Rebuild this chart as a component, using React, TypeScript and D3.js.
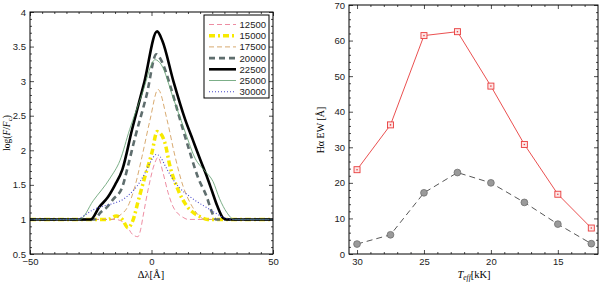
import React, { useEffect, useRef } from "react";
import * as d3 from "d3";

// line profiles log(F/Fc) vs delta lambda, one per Teff
const temps = ["12500", "15000", "17500", "20000", "22500", "25000", "30000"];
const p12500 = [[-50,1],[-15,1],[-12,0.97],[-10,0.9],[-8,0.79],[-5.6,0.75],[-4.5,0.85],[-3.5,1.04],[-1.4,1.43],[1.4,1.82],[2.7,1.9],[4.7,1.68],[6.8,1.39],[8.8,1.19],[11,1.08],[13,1.03],[15,1],[50,1]];
const p15000 = [[-50,1],[-18,1],[-14.5,1.05],[-12,1.0],[-9.7,0.88],[-7.5,1.0],[-5.6,1.25],[-2.7,1.62],[0.2,1.97],[2.3,2.27],[3.5,2.25],[5.5,2.11],[7.6,1.77],[10.9,1.43],[14.6,1.19],[17.5,1.09],[20,1.04],[23,1],[50,1]];
const p17500 = [[-50,1],[-17,1],[-13,1.06],[-9.7,1.19],[-6.8,1.48],[-3.9,1.91],[-0.6,2.44],[2.7,2.88],[6.4,2.44],[9.7,1.91],[13,1.48],[16.7,1.19],[20,1.04],[22,1],[50,1]];
const p20000 = [[-50,1],[-23.5,1],[-21,1.1],[-18.5,1.17],[-15.8,1.29],[-12.1,1.46],[-9.7,1.77],[-6.8,2.18],[-2,2.8],[2,3.39],[4,3.3],[8,2.9],[11.7,2.45],[15.8,1.97],[19,1.62],[22.8,1.32],[24.9,1.1],[26.5,1],[50,1]];
const p22500 = [[-50,1],[-25,1],[-21.5,1.18],[-18,1.32],[-15,1.5],[-12,1.72],[-8,2.3],[-3,2.98],[2.3,3.72],[4.5,3.58],[9,3.0],[13.8,2.45],[17,2.15],[20,1.87],[23,1.6],[25,1.4],[27,1.2],[29.5,1.02],[31,1],[50,1]];
const p25000 = [[-50,1],[-29.5,1],[-24,1.27],[-17,1.6],[-13,1.85],[-9,2.3],[-4,2.8],[1.5,3.31],[4,3.24],[9,2.75],[14,2.25],[18,1.88],[22,1.7],[25.3,1.55],[28,1.3],[31,1.1],[34,1],[50,1]];
const p30000 = [[-50,1],[-31,1],[-28,1.05],[-24,1.14],[-20,1.19],[-15,1.24],[-11.7,1.29],[-8,1.4],[-6,1.48],[-3,1.65],[-0.6,1.82],[2,1.94],[3.5,1.91],[6,1.75],[8.8,1.58],[12,1.44],[15.8,1.33],[19,1.25],[22.8,1.17],[26,1.1],[29,1.04],[33,1],[50,1]];
const profiles = [p12500, p15000, p17500, p20000, p22500, p25000, p30000];

// equivalent widths vs Teff
const teff = [30, 27.5, 25, 22.5, 20, 17.5, 15, 12.5];
const ewRed = [23.7, 36.3, 61.4, 62.5, 47.2, 30.8, 16.8, 7.3];
const ewGray = [2.8, 5.4, 17.2, 22.9, 20.0, 14.5, 8.4, 2.9];

const styles = [
  { color: "#e8708a", width: 0.8, dash: "5,3" },
  { color: "#f7ea00", width: 3.5, dash: "6,3,2,3" },
  { color: "#d4a060", width: 0.9, dash: "5,3" },
  { color: "#5f6e6e", width: 2.6, dash: "6,4" },
  { color: "#000000", width: 2.6, dash: null },
  { color: "#5a9a6a", width: 0.8, dash: null },
  { color: "#4848cc", width: 1.1, dash: "1,2" }
];

function frame(g, x, y, w, h, major, minor, majorY, minorY, fmtX, fmtY) {
  const tickText = (sel) =>
    sel.selectAll("text").attr("font-family", "Liberation Sans, Arial, sans-serif").attr("font-size", 9.5).attr("fill", "#222");
  const clean = (sel) => sel.select(".domain").remove();
  g.append("g").attr("transform", `translate(0,${h})`)
    .call(d3.axisBottom(x).tickValues(major).tickSize(-4).tickPadding(4).tickFormat(fmtX))
    .call(clean).call(tickText);
  g.append("g").attr("transform", `translate(0,${h})`)
    .call(d3.axisBottom(x).tickValues(minor).tickSize(-2).tickFormat(() => "")).call(clean);
  g.append("g").call(d3.axisTop(x).tickValues(major).tickSize(-4).tickFormat(() => "")).call(clean);
  g.append("g").call(d3.axisTop(x).tickValues(minor).tickSize(-2).tickFormat(() => "")).call(clean);
  g.append("g")
    .call(d3.axisLeft(y).tickValues(majorY).tickSize(-4).tickPadding(4).tickFormat(fmtY))
    .call(clean).call(tickText);
  g.append("g").call(d3.axisLeft(y).tickValues(minorY).tickSize(-2).tickFormat(() => "")).call(clean);
  g.append("g").attr("transform", `translate(${w},0)`)
    .call(d3.axisRight(y).tickValues(majorY).tickSize(-4).tickFormat(() => "")).call(clean);
  g.append("g").attr("transform", `translate(${w},0)`)
    .call(d3.axisRight(y).tickValues(minorY).tickSize(-2).tickFormat(() => "")).call(clean);
  g.selectAll(".tick line").attr("stroke", "#000").attr("stroke-width", 0.7);
  g.append("rect").attr("width", w).attr("height", h).attr("fill", "none").attr("stroke", "#000").attr("stroke-width", 1);
}

export default function App() {
  const ref = useRef(null);

  useEffect(() => {
    const svg = d3.select(ref.current);
    svg.selectAll("*").remove();

    // ---- left panel ----
    const L = { left: 30, top: 12, w: 243, h: 242 };
    const g1 = svg.append("g").attr("transform", `translate(${L.left},${L.top})`);
    const x1 = d3.scaleLinear().domain([-50, 50]).range([0, L.w]);
    const y1 = d3.scaleLinear().domain([0.5, 4]).range([L.h, 0]);
    const line1 = d3.line().x(d => x1(d[0])).y(d => y1(d[1])).curve(d3.curveMonotoneX);

    profiles.forEach((p, i) => {
      const s = styles[i];
      g1.append("path").attr("d", line1(p)).attr("fill", "none")
        .attr("stroke", s.color).attr("stroke-width", s.width)
        .attr("stroke-dasharray", s.dash);
    });

    frame(g1, x1, y1, L.w, L.h,
      [-50, 0, 50], d3.range(-45, 50, 5).filter(v => v % 50 !== 0),
      d3.range(0.5, 4.01, 0.5), d3.range(0.6, 4, 0.1).filter(v => Math.abs(v * 2 - Math.round(v * 2)) > 0.01),
      d => (d < 0 ? "\u2212" + Math.abs(d) : String(d)), d => String(d));

    // legend
    const lg = g1.append("g").attr("transform", `translate(${204 - L.left},${15 - L.top})`);
    lg.append("rect").attr("width", 65).attr("height", 83).attr("fill", "#fff").attr("stroke", "#000").attr("stroke-width", 1);
    temps.forEach((t, i) => {
      const s = styles[i];
      const yy = 9.5 + i * 11.2;
      lg.append("line").attr("x1", 5).attr("x2", 32).attr("y1", yy).attr("y2", yy)
        .attr("stroke", s.color).attr("stroke-width", s.width).attr("stroke-dasharray", s.dash);
      lg.append("text").attr("x", 62).attr("y", yy + 3.5).attr("text-anchor", "end")
        .attr("font-family", "Liberation Sans, Arial, sans-serif").attr("font-size", 9.5).attr("fill", "#222").text(t);
    });

    // axis titles
    svg.append("text").attr("x", 151).attr("y", 278).attr("text-anchor", "middle")
      .attr("font-family", "Liberation Serif, serif").attr("font-size", 10.5).text("\u0394\u03bb[\u00c5]");
    const yl = svg.append("text").attr("transform", "translate(10,133) rotate(-90)").attr("text-anchor", "middle")
      .attr("font-family", "Liberation Serif, serif").attr("font-size", 9.5);
    yl.append("tspan").text("log(");
    yl.append("tspan").attr("font-style", "italic").text("F");
    yl.append("tspan").text("/");
    yl.append("tspan").attr("font-style", "italic").text("F");
    yl.append("tspan").attr("font-size", 7).attr("dy", 2).text("c");
    yl.append("tspan").attr("dy", -2).text(")");

    // ---- right panel ----
    const R = { left: 349, top: 5, w: 249, h: 249 };
    const g2 = svg.append("g").attr("transform", `translate(${R.left},${R.top})`);
    const x2 = d3.scaleLinear().domain([30.6, 12]).range([0, R.w]);
    const y2 = d3.scaleLinear().domain([0, 70]).range([R.h, 0]);

    const redPts = teff.map((t, i) => [t, ewRed[i]]);
    const grayPts = teff.map((t, i) => [t, ewGray[i]]);
    const line2 = d3.line().x(d => x2(d[0])).y(d => y2(d[1]));

    g2.append("path").attr("d", line2(grayPts)).attr("fill", "none")
      .attr("stroke", "#444").attr("stroke-width", 0.9).attr("stroke-dasharray", "6,4");
    g2.selectAll(".gc").data(grayPts).enter().append("circle")
      .attr("cx", d => x2(d[0])).attr("cy", d => y2(d[1])).attr("r", 3.4)
      .attr("fill", "#9a9a9a").attr("stroke", "#666").attr("stroke-width", 0.7);

    g2.append("path").attr("d", line2(redPts)).attr("fill", "none")
      .attr("stroke", "#e83c3c").attr("stroke-width", 0.9);
    g2.selectAll(".rs").data(redPts).enter().append("rect")
      .attr("x", d => x2(d[0]) - 3).attr("y", d => y2(d[1]) - 3).attr("width", 6).attr("height", 6)
      .attr("fill", "#fde6e6").attr("stroke", "#e83c3c").attr("stroke-width", 0.9);
    g2.selectAll(".rd").data(redPts).enter().append("circle")
      .attr("cx", d => x2(d[0])).attr("cy", d => y2(d[1])).attr("r", 0.8).attr("fill", "#e83c3c");

    frame(g2, x2, y2, R.w, R.h,
      [30, 25, 20, 15], d3.range(13, 31, 1).filter(v => v % 5 !== 0),
      d3.range(0, 71, 10), d3.range(2, 70, 2).filter(v => v % 10 !== 0),
      d => String(d), d => String(d));

    svg.append("text").attr("x", 474).attr("y", 278).attr("text-anchor", "middle")
      .attr("font-family", "Liberation Serif, serif").attr("font-size", 10.5)
      .call(t => {
        t.append("tspan").attr("font-style", "italic").text("T");
        t.append("tspan").attr("font-style", "italic").attr("font-size", 7.5).attr("dy", 2).text("eff");
        t.append("tspan").attr("dy", -2).text("[kK]");
      });
    svg.append("text").attr("transform", "translate(324,130) rotate(-90)").attr("text-anchor", "middle")
      .attr("font-family", "Liberation Serif, serif").attr("font-size", 10)
      .text("H\u03b1 EW [\u00c5]");
  }, []);

  return (
    <svg ref={ref} width={600} height={282}
      style={{ position: "absolute", left: 0, top: 0, background: "#fff" }} />
  );
}
